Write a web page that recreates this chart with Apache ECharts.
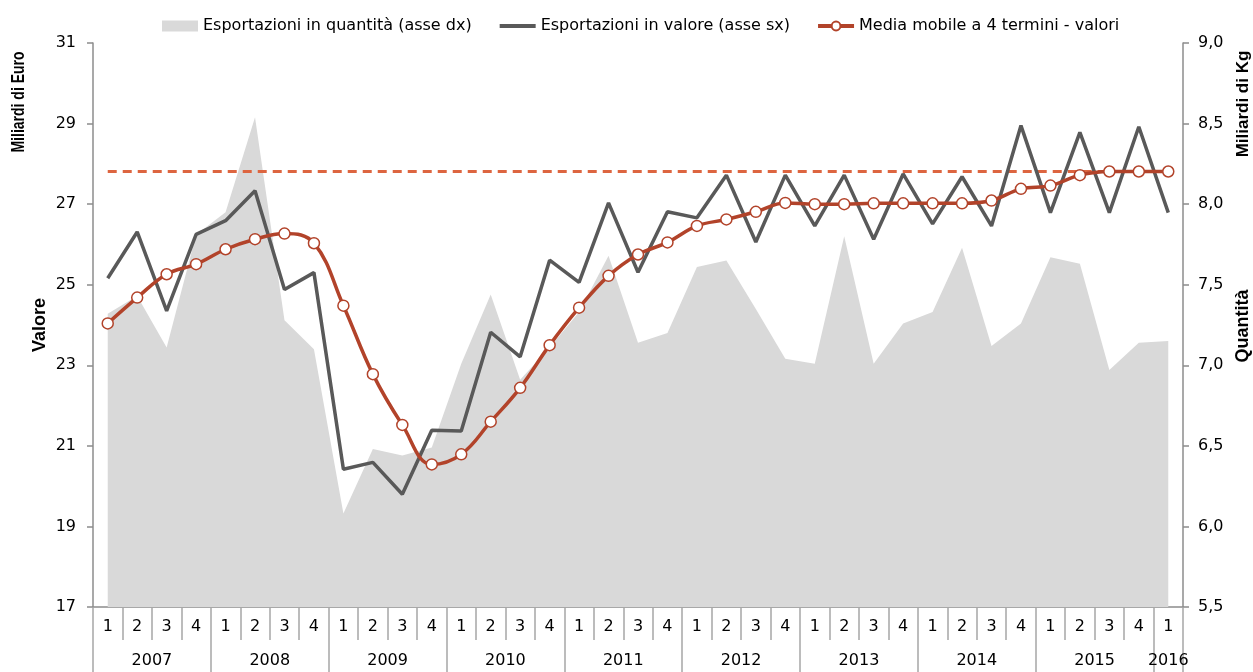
<!DOCTYPE html>
<html>
<head>
<meta charset="utf-8">
<script src="https://cdn.jsdelivr.net/npm/echarts@6/dist/echarts.min.js"></script>
<style>
html,body{margin:0;padding:0;background:#fff;}
#chart{width:1253px;height:672px;}
</style>
</head>
<body>
<div id="chart"></div>
<script>
// ---- data ----
var years = ['2007','2008','2009','2010','2011','2012','2013','2014','2015','2016'];
var quartersPerYear = [4,4,4,4,4,4,4,4,4,1];
var quarterNames = ['1','2','3','4'];

// Esportazioni in valore (asse sx), miliardi di euro
var valore = [25.16,26.31,24.35,26.25,26.59,27.33,24.88,25.30,20.42,20.59,19.80,21.39,21.37,23.82,23.21,25.61,25.06,27.03,25.31,26.81,26.66,27.72,26.06,27.72,26.46,27.72,26.13,27.75,26.51,27.68,26.46,28.95,26.79,28.78,26.79,28.92,26.79];
// Media mobile a 4 termini - valori
var mediaMobile = [24.04,24.68,25.26,25.51,25.88,26.13,26.27,26.03,24.48,22.78,21.52,20.54,20.79,21.60,22.44,23.50,24.43,25.22,25.75,26.05,26.46,26.62,26.81,27.03,27.00,27.00,27.02,27.02,27.02,27.02,27.09,27.38,27.46,27.72,27.81,27.81,27.81];
// Esportazioni in quantità (asse dx), miliardi di kg
var quantita = [7.32,7.43,7.11,7.81,7.95,8.54,7.28,7.10,6.08,6.48,6.44,6.49,7.01,7.44,6.91,7.11,7.33,7.68,7.14,7.20,7.61,7.65,7.35,7.04,7.01,7.80,7.01,7.26,7.33,7.73,7.12,7.26,7.67,7.63,6.97,7.14,7.15];
// reference level (dashed line)
var livelloRiferimento = 27.81;

var seriesNames = ['Esportazioni in quantità (asse dx)','Esportazioni in valore (asse sx)','Media mobile a 4 termini - valori'];

// ---- build categories ----
var categories = [];
var yearTickPos = [0];
var yearLabelPos = [];
var yearLabelMap = {};
var idx = 0;
for (var y = 0; y < years.length; y++) {
  for (var q = 0; q < quartersPerYear[y]; q++) {
    categories.push(years[y] + '-' + quarterNames[q]);
  }
  var center = idx + quartersPerYear[y] / 2;
  yearLabelPos.push(center);
  yearLabelMap[center] = years[y];
  idx += quartersPerYear[y];
  yearTickPos.push(idx);
}
var nCat = categories.length;

var axisGray = '#8c8c8c';
var font = 'DejaVu Sans, sans-serif';
var titleFont = 'Liberation Sans, Arial, sans-serif';

var chart = echarts.init(document.getElementById('chart'), null, {renderer:'canvas'});
var option = {
  animation: false,
  backgroundColor: '#fff',
  textStyle: {fontFamily: font},
  grid: {left: 93, right: 70, top: 43, bottom: 65, containLabel: false, outerBoundsMode: 'none'},
  legend: {
    left: 157, top: 13,
    itemWidth: 36, itemHeight: 11, itemGap: 26,
    textStyle: {fontSize: 16, color: '#000', fontFamily: font},
    data: [
      {name: seriesNames[0], icon: 'rect'},
      {name: seriesNames[1], itemStyle: {opacity: 0}, lineStyle: {width: 4, color: '#595959'}},
      {name: seriesNames[2], lineStyle: {width: 4, color: '#b2432a'}}
    ]
  },
  xAxis: [
    {
      type: 'category',
      data: categories,
      boundaryGap: true,
      axisLine: {show: true, lineStyle: {color: axisGray, width: 1.5}},
      axisTick: {show: true, interval: 0, alignWithLabel: false, length: 33, lineStyle: {color: '#a6a6a6', width: 1.5}},
      axisLabel: {interval: 0, margin: 12, fontSize: 16, color: '#000', fontFamily: font,
        formatter: function (v) { return v.split('-')[1]; }},
      splitLine: {show: false}
    },
    {
      type: 'value',
      min: 0, max: nCat,
      position: 'bottom',
      axisLine: {show: false},
      splitLine: {show: false},
      axisTick: {show: true, customValues: yearTickPos, length: 66, lineStyle: {color: '#a6a6a6', width: 1.5}},
      axisLabel: {show: true, customValues: yearLabelPos, margin: 46, fontSize: 16, color: '#000', fontFamily: font,
        showMinLabel: true, showMaxLabel: true,
        formatter: function (v) { return yearLabelMap[v] || ''; }}
    }
  ],
  yAxis: [
    {
      type: 'value', min: 17, max: 31, interval: 2, position: 'left',
      axisLine: {show: true, lineStyle: {color: axisGray, width: 1.5}},
      axisTick: {show: true, length: 6, lineStyle: {color: axisGray, width: 1.5}},
      axisLabel: {fontSize: 16, color: '#000', margin: 17, fontFamily: font},
      splitLine: {show: false}
    },
    {
      type: 'value', min: 5.5, max: 9, interval: 0.5, position: 'right',
      axisLine: {show: true, lineStyle: {color: axisGray, width: 1.5}},
      axisTick: {show: true, length: 6, lineStyle: {color: axisGray, width: 1.5}},
      axisLabel: {fontSize: 16, color: '#000', margin: 15, fontFamily: font,
        formatter: function (v) { return v.toFixed(1).replace('.', ','); }},
      splitLine: {show: false}
    }
  ],
  series: [
    {
      name: seriesNames[0],
      type: 'line',
      xAxisIndex: 0, yAxisIndex: 1,
      data: quantita,
      color: '#d9d9d9',
      itemStyle: {color: '#d9d9d9'},
      symbol: 'none',
      lineStyle: {width: 0, color: '#d9d9d9'},
      areaStyle: {color: '#d9d9d9', opacity: 1, origin: 'start'},
      z: 1
    },
    {
      name: seriesNames[1],
      type: 'line',
      xAxisIndex: 0, yAxisIndex: 0,
      data: valore,
      color: '#595959',
      symbol: 'none',
      lineStyle: {width: 3.5, color: '#595959'},
      z: 3,
      markLine: {
        silent: true,
        symbol: ['none','none'],
        label: {show: false},
        lineStyle: {color: '#dd6540', width: 3, type: [9, 6]},
        data: [[{coord: [0, livelloRiferimento]}, {coord: [nCat - 1, livelloRiferimento]}]],
        z: 2
      }
    },
    {
      name: seriesNames[2],
      type: 'line',
      xAxisIndex: 0, yAxisIndex: 0,
      data: mediaMobile,
      color: '#b2432a',
      smooth: 0.4,
      symbol: 'circle',
      symbolSize: 11,
      showAllSymbol: true,
      itemStyle: {color: '#ffffff', borderColor: '#b2432a', borderWidth: 1.5},
      lineStyle: {width: 3.5, color: '#b2432a'},
      z: 4
    }
  ],
  graphic: [
    {type: 'text', x: 19, y: 102, rotation: Math.PI / 2, scaleY: 1.3,
      style: {text: 'Miliardi di Euro', font: 'bold 14px ' + titleFont, fill: '#000', textAlign: 'center', textVerticalAlign: 'middle'}},
    {type: 'text', x: 40, y: 325, rotation: Math.PI / 2,
      style: {text: 'Valore', font: 'bold 18px ' + titleFont, fill: '#000', textAlign: 'center', textVerticalAlign: 'middle'}},
    {type: 'text', x: 1243, y: 104, rotation: Math.PI / 2,
      style: {text: 'Miliardi di Kg', font: 'bold 17px ' + titleFont, fill: '#000', textAlign: 'center', textVerticalAlign: 'middle'}},
    {type: 'text', x: 1243, y: 326, rotation: Math.PI / 2,
      style: {text: 'Quantità', font: 'bold 18px ' + titleFont, fill: '#000', textAlign: 'center', textVerticalAlign: 'middle'}}
  ]
};
chart.setOption(option);
</script>
</body>
</html>
